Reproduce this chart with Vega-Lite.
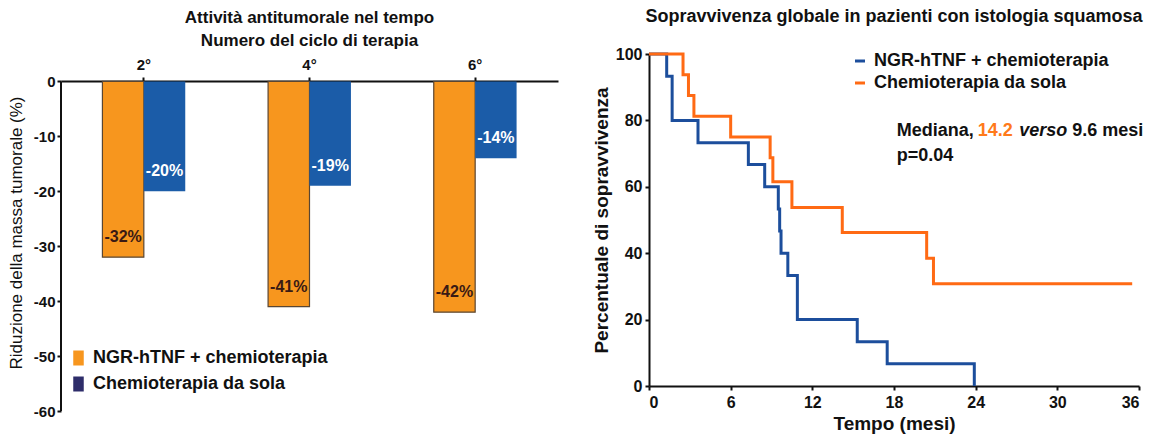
{
  "$schema": "https://vega.github.io/schema/vega-lite/v6.json",
  "padding": {"left": 7, "top": 8, "right": 5, "bottom": 5},
  "background": "white",
  "datasets": {
    "barre": [
      {"ciclo": "2°", "serie": "NGR-hTNF + chemioterapia", "valore": -32, "etichetta": "-32%"},
      {"ciclo": "2°", "serie": "Chemioterapia da sola", "valore": -20, "etichetta": "-20%"},
      {"ciclo": "4°", "serie": "NGR-hTNF + chemioterapia", "valore": -41, "etichetta": "-41%"},
      {"ciclo": "4°", "serie": "Chemioterapia da sola", "valore": -19, "etichetta": "-19%"},
      {"ciclo": "6°", "serie": "NGR-hTNF + chemioterapia", "valore": -42, "etichetta": "-42%"},
      {"ciclo": "6°", "serie": "Chemioterapia da sola", "valore": -14, "etichetta": "-14%"}
    ],
    "km": [
      {"serie": "NGR-hTNF + chemioterapia", "tempo": 0, "sopravvivenza": 100},
      {"serie": "NGR-hTNF + chemioterapia", "tempo": 1.3, "sopravvivenza": 93.3},
      {"serie": "NGR-hTNF + chemioterapia", "tempo": 1.7, "sopravvivenza": 80},
      {"serie": "NGR-hTNF + chemioterapia", "tempo": 3.6, "sopravvivenza": 73.3},
      {"serie": "NGR-hTNF + chemioterapia", "tempo": 7.3, "sopravvivenza": 66.7},
      {"serie": "NGR-hTNF + chemioterapia", "tempo": 8.5, "sopravvivenza": 60},
      {"serie": "NGR-hTNF + chemioterapia", "tempo": 9.5, "sopravvivenza": 53.3},
      {"serie": "NGR-hTNF + chemioterapia", "tempo": 9.6, "sopravvivenza": 46.7},
      {"serie": "NGR-hTNF + chemioterapia", "tempo": 9.7, "sopravvivenza": 40},
      {"serie": "NGR-hTNF + chemioterapia", "tempo": 10.2, "sopravvivenza": 33.3},
      {"serie": "NGR-hTNF + chemioterapia", "tempo": 10.9, "sopravvivenza": 20},
      {"serie": "NGR-hTNF + chemioterapia", "tempo": 15.3, "sopravvivenza": 13.3},
      {"serie": "NGR-hTNF + chemioterapia", "tempo": 17.5, "sopravvivenza": 6.7},
      {"serie": "NGR-hTNF + chemioterapia", "tempo": 23.9, "sopravvivenza": 0},
      {"serie": "Chemioterapia da sola", "tempo": 0, "sopravvivenza": 100},
      {"serie": "Chemioterapia da sola", "tempo": 2.5, "sopravvivenza": 93.75},
      {"serie": "Chemioterapia da sola", "tempo": 2.9, "sopravvivenza": 87.5},
      {"serie": "Chemioterapia da sola", "tempo": 3.3, "sopravvivenza": 81.25},
      {"serie": "Chemioterapia da sola", "tempo": 6.0, "sopravvivenza": 75},
      {"serie": "Chemioterapia da sola", "tempo": 8.9, "sopravvivenza": 68.75},
      {"serie": "Chemioterapia da sola", "tempo": 9.1, "sopravvivenza": 61.5},
      {"serie": "Chemioterapia da sola", "tempo": 10.5, "sopravvivenza": 53.8},
      {"serie": "Chemioterapia da sola", "tempo": 14.2, "sopravvivenza": 46.2},
      {"serie": "Chemioterapia da sola", "tempo": 20.4, "sopravvivenza": 38.5},
      {"serie": "Chemioterapia da sola", "tempo": 20.9, "sopravvivenza": 30.8},
      {"serie": "Chemioterapia da sola", "tempo": 35.5, "sopravvivenza": 30.8}
    ],
    "nota_nero": [
      {"x": 18.2, "y": 76.8, "testo": "Mediana,"},
      {"x": 31.1, "y": 76.8, "testo": "9.6 mesi"},
      {"x": 18.2, "y": 69.3, "testo": "p=0.04"}
    ],
    "nota_arancio": [{"x": 24.15, "y": 76.8, "testo": "14.2"}],
    "nota_corsivo": [{"x": 27.2, "y": 76.8, "testo": "verso"}],
    "asse": [{"pos": 0, "inizio": 0, "fine": -60}]
  },
  "config": {
    "font": "Liberation Sans",
    "view": {"stroke": null},
    "axis": {
      "grid": false,
      "domainColor": "#111111",
      "domainWidth": 2,
      "tickColor": "#111111",
      "tickWidth": 2,
      "tickSize": 4,
      "labelFont": "Liberation Sans",
      "labelFontWeight": "bold",
      "labelFontSize": 15,
      "labelColor": "#111111",
      "labelExpr": "toString(datum.value)",
      "titleFont": "Liberation Sans",
      "titleColor": "#111111"
    },
    "legend": {"labelFont": "Liberation Sans", "labelColor": "#111111", "labelLimit": 400},
    "title": {"font": "Liberation Sans", "color": "#111111"}
  },
  "concat": [
    {
      "width": 497,
      "height": 357,
      "title": {
        "text": ["Attività antitumorale nel tempo", "Numero del ciclo di terapia"],
        "fontSize": 17,
        "fontWeight": "bold",
        "anchor": "middle",
        "lineHeight": 23,
        "offset": 4
      },
      "layer": [
        {
          "data": {"name": "barre"},
          "layer": [
            {
              "mark": {"type": "bar", "strokeWidth": 1.2},
              "encoding": {
                "x": {
                  "field": "ciclo", "type": "nominal", "sort": ["2°", "4°", "6°"],
                  "scale": {"paddingInner": 0.5, "paddingOuter": 0.25},
                  "axis": {"orient": "top", "title": null, "labelAngle": 0, "labelPadding": 5, "offset": -27, "labelExpr": "datum.label"}
                },
                "xOffset": {"field": "serie", "type": "nominal", "sort": ["NGR-hTNF + chemioterapia", "Chemioterapia da sola"], "scale": {"paddingInner": 0, "paddingOuter": 0}},
                "y": {
                  "field": "valore", "type": "quantitative",
                  "scale": {"domain": [-60, 5.0], "nice": false, "zero": false},
                  "axis": {"values": [0, -10, -20, -30, -40, -50, -60], "domain": false, "title": "Riduzione della massa tumorale (%)", "titleFontSize": 17, "titleFontWeight": "normal", "titlePadding": 8}
                },
                "color": {
                  "field": "serie", "type": "nominal",
                  "scale": {"domain": ["NGR-hTNF + chemioterapia", "Chemioterapia da sola"], "range": ["#F7961E", "#1B5CA8"]},
                  "legend": null
                },
                "stroke": {
                  "condition": {"test": "datum.serie === 'NGR-hTNF + chemioterapia'", "value": "#5A4632"},
                  "value": "transparent"
                }
              }
            },
            {
              "mark": {"type": "text", "dy": -20, "fontSize": 16, "fontWeight": "bold", "baseline": "middle"},
              "encoding": {
                "x": {"field": "ciclo", "type": "nominal", "sort": ["2°", "4°", "6°"]},
                "xOffset": {"field": "serie", "type": "nominal", "sort": ["NGR-hTNF + chemioterapia", "Chemioterapia da sola"]},
                "y": {"field": "valore", "type": "quantitative"},
                "text": {"field": "etichetta"},
                "color": {
                  "condition": {"test": "datum.serie === 'NGR-hTNF + chemioterapia'", "value": "#3A1A14"},
                  "value": "white"
                }
              }
            }
          ]
        },
        {
          "data": {"name": "barre"},
          "mark": {"type": "point", "filled": true, "size": 0, "opacity": 1},
          "encoding": {
            "color": {
              "field": "serie", "type": "nominal",
              "scale": {"domain": ["NGR-hTNF + chemioterapia", "Chemioterapia da sola"], "range": ["#F7961E", "#2E2D6A"]},
              "legend": {
                "title": null,
                "orient": "none",
                "legendX": 8.5,
                "legendY": 295,
                "symbolType": "M-0.7,-1L0.7,-1L0.7,1L-0.7,1Z",
                "symbolSize": 225,
                "symbolStrokeWidth": 0,
                "symbolOpacity": 1,
                "labelFontSize": 18,
                "labelFontWeight": "bold",
                "rowPadding": 8,
                "labelOffset": 5.5
              }
            }
          }
        },
        {
          "data": {"name": "asse"},
          "mark": {"type": "rule", "color": "#111111", "strokeWidth": 2},
          "encoding": {
            "x": {"field": "pos", "type": "quantitative", "scale": {"domain": [0, 1]}, "axis": null},
            "y": {"field": "inizio", "type": "quantitative"},
            "y2": {"field": "fine"}
          }
        }
      ],
      "resolve": {"scale": {"x": "independent", "color": "independent"}, "axis": {"x": "independent"}, "legend": {"color": "independent"}}
    },
    {
      "width": 490,
      "height": 332,
      "title": {
        "text": "Sopravvivenza globale in pazienti con istologia squamosa",
        "fontSize": 18,
        "fontWeight": "bold",
        "anchor": "middle",
        "offset": 20
      },
      "layer": [
        {
          "data": {"name": "km"},
          "mark": {"type": "line", "interpolate": "step-after", "strokeWidth": 3},
          "encoding": {
            "x": {
              "field": "tempo", "type": "quantitative",
              "scale": {"domain": [0, 36], "nice": false},
              "axis": {"values": [0, 6, 12, 18, 24, 30, 36], "title": "Tempo (mesi)", "titleFontSize": 19, "titleFontWeight": "bold", "titlePadding": 4, "labelPadding": 4, "labelFontSize": 16}
            },
            "y": {
              "field": "sopravvivenza", "type": "quantitative",
              "scale": {"domain": [0, 100], "nice": false},
              "axis": {"values": [0, 20, 40, 60, 80, 100], "title": "Percentuale di sopravvivenza", "titleFontSize": 19, "titleFontWeight": "bold", "titlePadding": 4, "labelPadding": 3, "labelFontSize": 16}
            },
            "color": {
              "field": "serie", "type": "nominal",
              "scale": {"domain": ["NGR-hTNF + chemioterapia", "Chemioterapia da sola"], "range": ["#1C4E9C", "#FF6A14"]},
              "legend": {
                "title": null,
                "orient": "none",
                "legendX": 202,
                "legendY": -2,
                "symbolType": "stroke",
                "symbolStrokeWidth": 3,
                "symbolSize": 100,
                "labelFontSize": 18,
                "labelFontWeight": "bold",
                "rowPadding": 4,
                "labelOffset": 5
              }
            }
          }
        },
        {
          "data": {"name": "nota_nero"},
          "mark": {"type": "text", "align": "left", "baseline": "middle", "fontSize": 18, "fontWeight": "bold", "color": "#111111"},
          "encoding": {
            "x": {"field": "x", "type": "quantitative"},
            "y": {"field": "y", "type": "quantitative"},
            "text": {"field": "testo"}
          }
        },
        {
          "data": {"name": "nota_arancio"},
          "mark": {"type": "text", "align": "left", "baseline": "middle", "fontSize": 18, "fontWeight": "bold", "color": "#FF7A1A"},
          "encoding": {
            "x": {"field": "x", "type": "quantitative"},
            "y": {"field": "y", "type": "quantitative"},
            "text": {"field": "testo"}
          }
        },
        {
          "data": {"name": "nota_corsivo"},
          "mark": {"type": "text", "align": "left", "baseline": "middle", "fontSize": 18, "fontWeight": "bold", "fontStyle": "italic", "color": "#111111"},
          "encoding": {
            "x": {"field": "x", "type": "quantitative"},
            "y": {"field": "y", "type": "quantitative"},
            "text": {"field": "testo"}
          }
        }
      ]
    }
  ],
  "columns": 2,
  "spacing": 34,
  "resolve": {"scale": {"color": "independent"}, "legend": {"color": "independent"}}
}
